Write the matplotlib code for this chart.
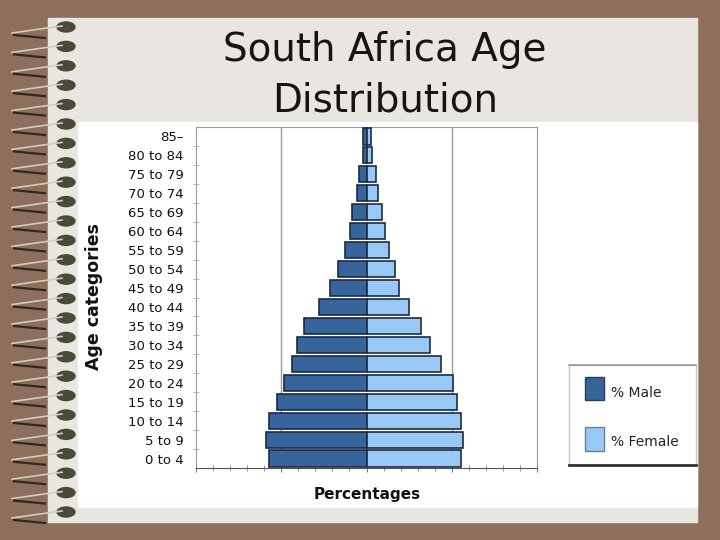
import numpy as np
import matplotlib
matplotlib.use("Agg")
import matplotlib.pyplot as plt
from matplotlib.patches import Rectangle, Ellipse

# age groups, bottom to top
ages = ['0 to 4', '5 to 9', '10 to 14', '15 to 19', '20 to 24', '25 to 29',
        '30 to 34', '35 to 39', '40 to 44', '45 to 49', '50 to 54', '55 to 59',
        '60 to 64', '65 to 69', '70 to 74', '75 to 79', '80 to 84', '85\u2013']
# percent of population
male = [5.7, 5.9, 5.7, 5.25, 4.85, 4.35, 4.05, 3.65, 2.8, 2.15,
        1.7, 1.25, 0.95, 0.85, 0.55, 0.45, 0.2, 0.2]
female = [5.55, 5.65, 5.55, 5.3, 5.1, 4.35, 3.75, 3.2, 2.5, 1.9,
          1.65, 1.3, 1.1, 0.9, 0.65, 0.55, 0.3, 0.25]
legend_labels = ['% Male', '% Female']

male_col = '#37649b'
female_col = '#98c8f4'
edge_col = '#1b2b45'

fig = plt.figure(figsize=(7.2, 5.4), dpi=100)

# slide background drawn in pixel coordinates
bg = fig.add_axes([0, 0, 1, 1], zorder=0)
bg.set_xlim(0, 720)
bg.set_ylim(540, 0)
bg.axis('off')
bg.add_patch(Rectangle((0, 0), 720, 540, color='#8e6f5b'))
bg.add_patch(Rectangle((48, 18), 649, 504, color='#e9e5e1'))
bg.add_patch(Rectangle((78, 122), 619, 385, color='white'))

# notebook spiral rings
for k in range(27):
    y = 27 + k * 19.4
    if y > 520:
        break
    bg.plot([12, 40, 62], [y + 6, y + 2, y - 1], color='#cfcfc0', lw=1.2)
    bg.plot([14, 45], [y + 8, y + 11], color='#2e2a20', lw=1.6)
    bg.add_patch(Ellipse((66, y), 18, 10, color='#4a4a38'))

# title
bg.text(385, 50, 'South Africa Age', ha='center', va='center',
        fontsize=28, color='#1a1410')
bg.text(385, 101, 'Distribution', ha='center', va='center',
        fontsize=28, color='#1a1410')

# legend box
bg.add_patch(Rectangle((569, 365), 127, 100, facecolor='white',
                       edgecolor='#c8c8c8', lw=1))
bg.plot([569, 696], [465, 465], color='#333333', lw=2)
bg.plot([569, 696], [365, 365], color='#999999', lw=1.2)
bg.add_patch(Rectangle((585, 377), 19, 23, facecolor=male_col,
                       edgecolor='#2a3f5c', lw=1))
bg.add_patch(Rectangle((585, 427), 19, 24, facecolor=female_col,
                       edgecolor='#6a7f99', lw=1))
bg.text(611, 393, legend_labels[0], va='center', fontsize=10, color='#222222')
bg.text(611, 442, legend_labels[1], va='center', fontsize=10, color='#222222')

# axis titles
bg.text(94, 297, 'Age categories', rotation=90, ha='center', va='center',
        fontsize=12.5, fontweight='bold', color='#111111')
bg.text(367, 494, 'Percentages', ha='center', va='center',
        fontsize=11, fontweight='bold', color='#111111')

# the pyramid
ax = fig.add_axes([196 / 720, 1 - 468 / 540, 341 / 720, 341 / 540], zorder=2)
ax.set_facecolor('white')
y = np.arange(len(ages))
ax.barh(y, -np.array(male), height=0.85, color=male_col,
        edgecolor=edge_col, lw=1.2, zorder=3)
ax.barh(y, female, height=0.85, color=female_col,
        edgecolor=edge_col, lw=1.2, zorder=3)
ax.set_xlim(-10, 10)
ax.set_ylim(-0.5, len(ages) - 0.5)
for gx in [-5, 5]:
    ax.axvline(gx, color='#9a9a9a', lw=1, zorder=1)

ax.set_yticks(y)
ax.set_yticklabels(ages, fontsize=9.5, color='#111111')
ax.set_yticks(np.arange(0.5, len(ages) - 0.5, 1), minor=True)
ax.tick_params(axis='y', which='major', length=0, pad=9)
ax.tick_params(axis='y', which='minor', length=4, direction='inout',
               color='#aaaaaa')
ax.set_xticks([-10, -5, 0, 5, 10])
ax.set_xticks(np.arange(-10, 11, 1), minor=True)
ax.set_xticklabels([])
ax.tick_params(axis='x', which='major', length=6, direction='inout',
               color='#777777')
ax.tick_params(axis='x', which='minor', length=4, direction='inout',
               color='#888888')
for s in ['left', 'top', 'right']:
    ax.spines[s].set_color('#9a9a9a')
ax.spines['bottom'].set_color('#555555')

fig.savefig('out.png', dpi=100)
